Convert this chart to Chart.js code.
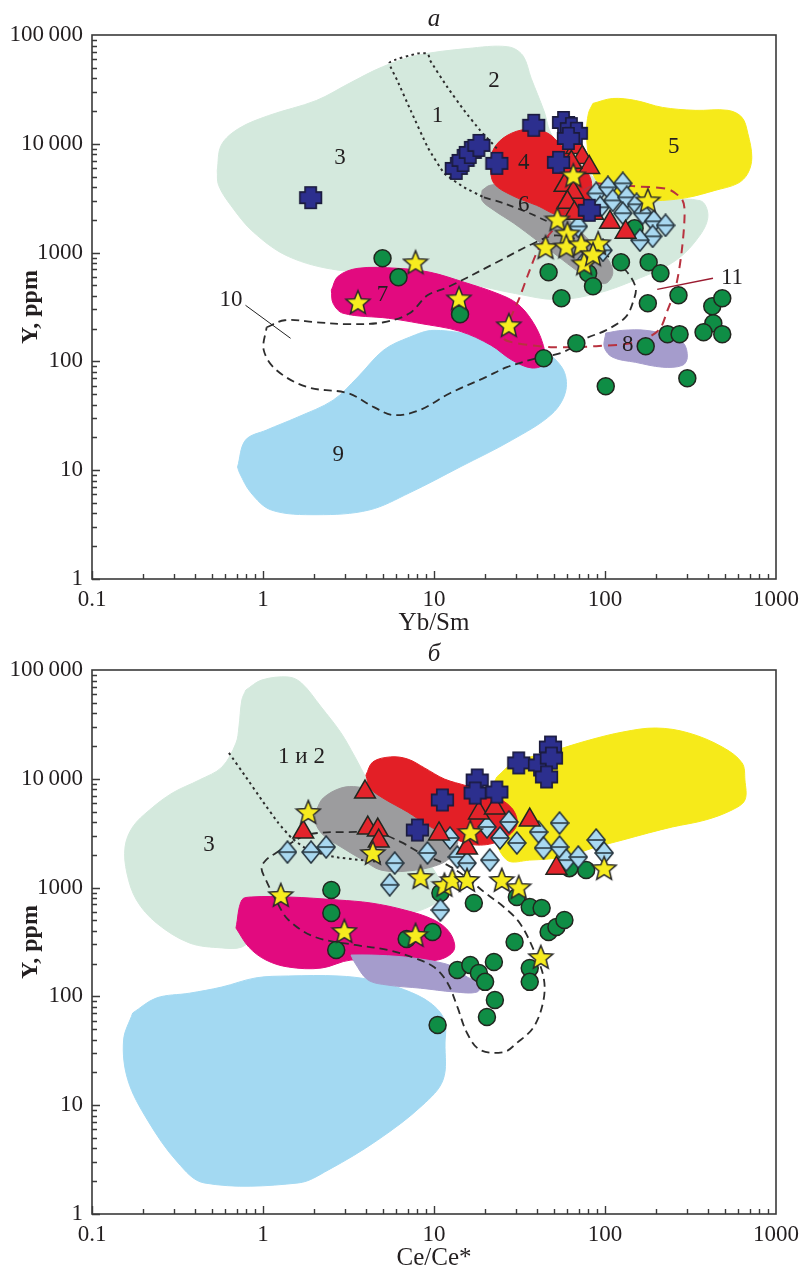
<!DOCTYPE html>
<html>
<head>
<meta charset="utf-8">
<script src="https://cdn.jsdelivr.net/npm/chart.js@4.4.0/dist/chart.umd.min.js"></script>
<style>
  body { margin: 0; background: #fff; }
  .panel { width: 806px; height: 636px; }
</style>
</head>
<body>
<div class="panel"><canvas id="chartA" width="806" height="636"></canvas></div>
<div class="panel"><canvas id="chartB" width="806" height="636"></canvas></div>
<script>
// axes
const xTicks = [0.1, 1, 10, 100, 1000];
const xTickLabels = ['0.1', '1', '10', '100', '1000'];
const yTicks = [1, 10, 100, 1000, 10000, 100000];
const yTickLabels = ['1', '10', '100', '1000', '10\u2009000', '100\u2009000'];

// ---- panel a: Y vs Yb/Sm ----
const zoneA3 = [[0.54,5700],[0.57,9700],[0.72,13800],[1.08,18200],[2.05,25000],[3.2,36000],[5.0,51000],[8.0,65000],[15.6,75000],[27,78000],[33,65000],[37,40000],[44,20000],[49,12000],[73,5900],[150,3200],[360,3000],[400,2200],[360,1450],[260,850],[150,560],[89,420],[52,370],[30,420],[15.6,520],[8,620],[2.75,690],[1.41,920],[0.88,1540],[0.65,2700],[0.55,4150],[0.54,5700]];
const zoneA9 = [[0.71,10.7],[0.79,18.9],[1.05,23.4],[1.59,30.7],[2.57,44],[3.59,72],[5.08,127],[7.2,167],[10,193],[20,167],[40,135],[56,88],[59,54],[49,33],[28.5,18.9],[14.2,10.7],[7.2,6.2],[4.16,4.3],[2.07,3.9],[1.12,4.3],[0.85,6.2],[0.73,9.4],[0.71,10.7]];
const zoneA7 = [[2.51,451],[2.75,606],[3.59,717],[6.12,717],[9.5,659],[15,534],[23.3,423],[30.5,342],[37.3,239],[43.2,147],[44.3,96],[37.3,87],[28.5,103],[21.5,141],[14.2,189],[8.2,224],[5.43,249],[2.94,277],[2.57,342],[2.51,451]];
const zoneA8 = [[101,182],[127,193],[173,193],[235,174],[288,147],[303,109],[284,92],[217,88.5],[151,98],[111,109],[99,135],[101,182]];
const zoneA6 = [[19.1,3730],[21.2,4150],[24.9,4150],[39.8,3220],[54,2450],[68,1710],[89,1120],[105,850],[111,645],[101,522],[85,557],[68,688],[54,905],[39.8,1300],[29.3,1860],[22.4,2450],[19.1,3020],[19.1,3730]];
const zoneA4 = [[21.2,6340],[22.4,9080],[26.7,11900],[34.8,13600],[45.5,12700],[55.6,9670],[68,7040],[83,4610],[77.6,2720],[55.6,2200],[39.8,2720],[28.5,3360],[22.4,4330],[21.2,6340]];
const zoneA5 = [[85,23500],[111,26100],[151,25000],[217,21600],[337,20300],[524,20300],[632,17500],[684,12500],[722,7500],[684,5350],[598,4330],[440,3730],[307,3220],[217,3020],[151,3020],[111,3500],[89,4610],[81,7040],[78,12500],[80,19000],[85,23500]];
const lineA10 = [[1.05,206],[1.34,239],[2.05,229],[3.15,220],[5.08,229],[7.2,277],[9.16,405],[12,480],[23.3,815],[38.3,1220],[52,1440],[77.6,1220],[108,887],[132,688],[151,480],[147,365],[132,255],[101,193],[77.6,163],[56.4,121],[39.8,107],[26.7,88.5],[20.1,71.6],[12.4,51],[8.2,35.6],[5.8,32.1],[4.45,38],[3.15,51],[1.82,58],[1.2,83],[1.01,127],[1.05,206]];
const lineA11 = [[88.8,4330],[151,4060],[235,3810],[284,3020],[292,2200],[280,986],[259,480],[232,295],[206,193],[151,150],[88.8,138],[50,135],[30.5,147],[25.6,163],[27.7,239],[31.7,389],[35.7,645],[41.4,1120],[52,1780],[68,3360],[88.8,4330]];
const dotsA1 = [[23.3,9080],[18.6,13300],[15,20300],[12,33000],[9.5,58300],[9.2,67600],[8.0,67600],[5.5,55900],[6.1,38200],[7.3,20300],[9.2,9270],[11.5,5350],[15,3980],[19.6,3220]];
const dashA1 = [[19.6,3220],[25.6,2840],[36.2,2300],[48.6,1860]];
const leadA10 = [[0.79,328],[1.45,163]];
const leadA11 = [[202,460],[428,581]];
const crossA = [[1.9,3200],[13.5,5940],[14.8,7040],[16.3,8340],[18.3,9670],[23.3,6610],[38.3,14800],[57.2,15700],[63.6,13800],[68,12500],[61.1,11200],[53.5,6750],[81,2450]];
const triangleA = [[68,9270],[73.6,7500],[80.8,6070],[63.6,6750],[58,4150],[65.3,3580],[60.3,2900],[85.1,2300],[107,1900],[132,1540],[66.2,2300]];
const diamondA = [[88.8,3500],[104,3980],[127,4330],[93.5,2610],[111,3020],[134,3220],[153,2780],[127,2300],[166,2300],[193,1940],[226,1780],[190,1410],[160,1300],[97.3,1050],[69.8,1740],[77.6,850]];
const starA = [[3.59,350],[7.8,815],[14,380],[27.4,215],[65.3,5130],[178,3020],[52.7,2020],[60.3,1500],[44.9,1120],[59.4,1140],[72.6,1190],[91.2,1220],[75.5,797],[85.1,965]];
const circleA = [[5.0,887],[6.2,593],[14.2,271],[43.8,107],[68,147],[101,59.2],[46.8,659],[55.6,380],[79.7,645],[85.1,490],[124,815],[180,815],[211,645],[178,342],[269,405],[424,321],[485,380],[430,224],[377,185],[485,178],[232,178],[273,178],[173,138],[303,70.1],[149,1670]];
const labelsA = [['1',10.5,18200],['2',22.4,38200],['3',2.82,7350],['4',33.5,6610],['5',252,9270],['6',33.5,2720],['7',5.0,405],['8',136,141],['9',2.75,13.8],['10',0.65,365],['11',553,581]];

// ---- panel б: Y vs Ce/Ce* ----
const zoneB3 = [[0.794,65500],[0.983,80900],[1.41,86200],[1.68,75900],[2.19,45700],[2.86,26400],[3.45,15900],[4.1,9750],[6.13,4180],[9.16,1790],[11.2,950],[9.8,692],[6.13,560],[2.41,560],[0.944,367],[0.752,284],[0.575,279],[0.371,310],[0.238,473],[0.182,769],[0.16,1360],[0.156,2360],[0.173,3610],[0.217,5170],[0.295,7400],[0.424,9750],[0.575,12800],[0.695,21300],[0.723,29900],[0.752,53000],[0.794,65500]];
const zoneB9 = [[0.173,70.4],[0.238,96.7],[0.371,107],[0.575,122],[0.908,148],[1.41,154],[2.75,154],[4.27,142],[6.73,115],[9.53,87],[11.5,60.7],[11.6,37.3],[11.3,17.1],[8.57,10],[4.69,4.79],[2.41,2.54],[1.61,1.93],[0.453,1.93],[0.316,3.0],[0.211,7.31],[0.162,17.1],[0.153,39.7],[0.173,70.4]];
const zoneB7 = [[0.695,425],[0.752,769],[0.86,820],[1.41,820],[2.75,769],[4.27,722],[6.73,622],[10,504],[12.4,383],[13.1,267],[10.5,216],[5.37,207],[3.27,216],[2.19,182],[1.41,186],[1.04,216],[0.826,284],[0.695,425]];
const zoneB8 = [[3.27,240],[3.45,203],[4.1,142],[5.37,127],[8.34,119],[13.1,110],[17.9,110],[18.6,133],[15.6,151],[13.1,186],[10.5,207],[6.73,230],[4.27,240],[3.27,240]];
const zoneB6 = [[2.05,5170],[2.25,6660],[2.86,8230],[3.59,8410],[4.69,7560],[7.01,5740],[10.5,4360],[13.7,3040],[12.8,1990],[10.5,1610],[7.01,1420],[4.89,1450],[3.84,1790],[2.86,2360],[2.25,3040],[2.02,4010],[2.05,5170]];
const zoneB4 = [[4.0,10800],[4.39,14300],[5.58,15900],[7.01,15200],[8.8,12600],[11.5,9960],[15.6,8590],[21.8,7100],[28.5,5390],[30.5,3760],[24.9,2740],[17.9,2460],[12.8,2860],[9.16,3760],[7.01,4950],[5.02,6660],[4.22,8230],[4.0,10800]];
const zoneB5 = [[23.3,10400],[29.3,14000],[52,18400],[81,22700],[127,26900],[198,29300],[308,26400],[485,19600],[633,14000],[658,9750],[658,6390],[553,5170],[386,4180],[248,3610],[180,3180],[127,2740],[88.8,2360],[57.1,1910],[36.3,1790],[26.7,1790],[21.8,3380],[20.4,6390],[23.3,10400]];
const lineB10 = [[1.19,2080],[1.68,2920],[2.11,3180],[3.14,3240],[4.69,3180],[6.38,2630],[8.34,2080],[12,1610],[15.6,1230],[19.6,912],[25.6,663],[31.7,473],[38.3,267],[43.7,151],[43.7,92.7],[38.3,52.3],[30.5,37.3],[25.6,30.8],[18.6,32.2],[15.6,46.1],[13.7,80],[12,133],[10,186],[7.7,225],[5.37,267],[3.45,297],[2.02,351],[1.41,504],[1.19,769],[1.04,1175],[0.98,1510],[1.04,1790],[1.19,2080]];
const dotsB = [[0.632,17300],[0.794,10400],[0.983,6390],[1.23,3920],[1.47,2860],[1.84,2220],[2.64,1910],[3.74,1790],[4.88,1720]];
const crossB = [[8.0,3380],[11.2,6390],[17.9,9750],[17.4,7400],[23.3,7560],[31.3,14000],[41.4,13400],[48,19600],[48.6,15500],[45.5,10400]];
const triangleB = [[1.72,3240],[3.95,7560],[4.1,3530],[4.69,3380],[4.75,2680],[10.7,3110],[18.3,4850],[22.7,5390],[36.3,4180],[15.6,2310],[52,1510]];
const diamondB = [[1.39,2120],[1.91,2120],[2.34,2360],[5.89,1680],[5.51,1060],[9.16,2080],[10.9,622],[12.4,2860],[13.7,1910],[15.6,1680],[21.2,1790],[20.4,3610],[24.3,2860],[27.4,4010],[30.5,2570],[40.9,3240],[43.7,2310],[54.2,3920],[54.2,2360],[59.4,1790],[69.8,1910],[88.8,2740],[98.9,2080]];
const starB = [[1.84,4950],[4.39,2080],[8.34,1250],[11.5,1060],[12.8,1175],[15.6,1175],[16.3,3240],[24.9,1175],[31.3,1010],[98.9,1510],[1.27,855],[2.99,399],[7.8,367],[42.1,230]];
const circleB = [[2.51,950],[2.51,584],[2.68,267],[6.92,337],[9.8,391],[10.9,892],[17.1,722],[30.5,820],[36.3,663],[42.6,649],[29.6,316],[46.8,391],[52,434],[57.9,504],[13.7,175],[16.3,194],[18.3,164],[19.9,136],[22.4,207],[36.3,182],[36.3,136],[22.7,92.7],[20.4,64.7],[10.5,54.6],[77.6,1450],[61.9,1510]];
const labelsB = [['1 и 2',1.68,15900],['3',0.484,2460]];

const serif = '"Liberation Serif", "Times New Roman", serif';

function makeMarker(w, h, paint) {
    const c = document.createElement('canvas');
    c.width = w;
    c.height = h;
    paint(c.getContext('2d'));
    return c;
}

const starImg = makeMarker(28, 28, function(g) {
    g.beginPath();
    for (let i = 0; i < 10; i++) {
        const r = i % 2 ? 5.6 : 12.6;
        const ang = -Math.PI / 2 + i * Math.PI / 5;
        g.lineTo(14 + r * Math.cos(ang), 15 + r * Math.sin(ang));
    }
    g.closePath();
    g.fillStyle = '#f7ec1f';
    g.fill();
    g.lineWidth = 1.5;
    g.strokeStyle = '#2a2a2a';
    g.stroke();
});

const crossImg = makeMarker(25, 25, function(g) {
    const a = 5.6, s = 10.8, c = 12.5;
    const pts = [[c-a,c-s],[c+a,c-s],[c+a,c-a],[c+s,c-a],[c+s,c+a],[c+a,c+a],[c+a,c+s],[c-a,c+s],[c-a,c+a],[c-s,c+a],[c-s,c-a],[c-a,c-a]];
    g.beginPath();
    pts.forEach(p => g.lineTo(p[0], p[1]));
    g.closePath();
    g.fillStyle = '#2c2f8e';
    g.fill();
    g.lineWidth = 1.6;
    g.strokeStyle = '#1b1b3b';
    g.stroke();
});

const diamondImg = makeMarker(20, 24, function(g) {
    g.beginPath();
    g.moveTo(10, 1); g.lineTo(19, 12); g.lineTo(10, 23); g.lineTo(1, 12);
    g.closePath();
    g.fillStyle = '#a9d9f1';
    g.fill();
    g.lineWidth = 1.5;
    g.strokeStyle = '#22303a';
    g.stroke();
    g.beginPath();
    g.moveTo(2, 12); g.lineTo(18, 12);
    g.stroke();
});

const toXY = arr => arr.map(p => ({ x: p[0], y: p[1] }));

function zone(data, color, order) {
    return { data: toXY(data), showLine: true, fill: 'shape', backgroundColor: color,
             borderColor: color, borderWidth: 1, pointRadius: 0, tension: 0.35, order: order };
}

function outline(data, color, width, dash, order, tension) {
    return { data: toXY(data), showLine: true, fill: false, borderColor: color, borderWidth: width,
             borderDash: dash, pointRadius: 0, tension: tension, order: order };
}

function markers(data, style, radius, fillColor, order) {
    return { data: toXY(data), showLine: false, pointStyle: style, pointRadius: radius,
             backgroundColor: fillColor || '#000', borderColor: '#22261f', borderWidth: 1.5, order: order };
}

// box, inward ticks and all the texts
const framePlugin = {
    id: 'frame',
    afterDraw(chart, args, opts) {
        const { ctx, chartArea: area } = chart;
        const x = chart.scales.x, y = chart.scales.y;
        ctx.save();
        ctx.strokeStyle = '#3a3a3a';
        ctx.lineWidth = 1.4;
        ctx.beginPath();
        for (let d = 0.1; d < 999; d *= 10) {
            for (let m = 1; m < 10; m++) {
                const px = Math.round(x.getPixelForValue(d * m)) + 0.5;
                ctx.moveTo(px, area.bottom);
                ctx.lineTo(px, area.bottom - (m === 1 ? 8 : 5));
            }
        }
        for (let d = 1; d < 99999; d *= 10) {
            for (let m = 1; m < 10; m++) {
                const py = Math.round(y.getPixelForValue(d * m)) + 0.5;
                ctx.moveTo(area.left, py);
                ctx.lineTo(area.left + (m === 1 ? 8 : 5), py);
            }
        }
        ctx.stroke();
        ctx.lineWidth = 1.6;
        ctx.strokeRect(area.left, area.top, area.right - area.left, area.bottom - area.top);

        ctx.fillStyle = '#231f20';
        ctx.textAlign = 'center';
        ctx.textBaseline = 'middle';
        ctx.font = '23px ' + serif;
        opts.labels.forEach(function(l) {
            ctx.fillText(l[0], x.getPixelForValue(l[1]), y.getPixelForValue(l[2]));
        });
        const cx = (area.left + area.right) / 2;
        ctx.font = '25px ' + serif;
        ctx.fillText(opts.xTitle, cx, area.bottom + 44);
        ctx.font = 'italic 25px ' + serif;
        ctx.fillText(opts.letter, cx, area.top - 16);
        ctx.translate(31, (area.top + area.bottom) / 2);
        ctx.rotate(-Math.PI / 2);
        ctx.font = 'bold 24px ' + serif;
        ctx.fillText('Y, ppm', 0, 0);
        ctx.restore();
    }
};

function makePanel(id, datasets, plugOpts, top, axisH) {
    return new Chart(document.getElementById(id), {
        type: 'scatter',
        data: { datasets: datasets },
        plugins: [framePlugin],
        options: {
            responsive: false,
            animation: false,
            events: [],
            devicePixelRatio: 1,
            layout: { padding: { top: top, right: 25, left: 0, bottom: 0 } },
            plugins: { legend: { display: false }, tooltip: { enabled: false }, frame: plugOpts },
            scales: {
                x: {
                    type: 'logarithmic', min: 0.1, max: 1000,
                    grid: { display: false, drawTicks: false },
                    border: { display: false },
                    ticks: { color: '#231f20', font: { family: serif, size: 23 }, padding: 7,
                             autoSkip: false, maxRotation: 0,
                             callback: (v, i) => xTickLabels[i] },
                    afterBuildTicks: s => { s.ticks = xTicks.map(v => ({ value: v })); },
                    afterFit: s => { s.height = axisH; }
                },
                y: {
                    type: 'logarithmic', min: 1, max: 100000,
                    grid: { display: false, drawTicks: false },
                    border: { display: false },
                    ticks: { color: '#231f20', font: { family: serif, size: 23 }, padding: 9,
                             autoSkip: false,
                             callback: (v, i) => yTickLabels[i] },
                    afterBuildTicks: s => { s.ticks = yTicks.map(v => ({ value: v })); },
                    afterFit: s => { s.width = 92; }
                }
            }
        }
    });
}

const dark = '#2d2d2d';

makePanel('chartA', [
    zone(zoneA3, '#d4e9dd', 30),
    zone(zoneA9, '#a3d9f2', 29),
    zone(zoneA7, '#e20a7f', 28),
    zone(zoneA8, '#a59ccc', 27),
    zone(zoneA6, '#9c9c9e', 26),
    zone(zoneA4, '#e31f26', 25),
    zone(zoneA5, '#f6ea1a', 24),
    outline(dotsA1, dark, 2, [2.5, 3.5], 20, 0.15),
    outline(dashA1, dark, 1.8, [7, 5], 20, 0.2),
    outline(lineA10, dark, 1.8, [8, 5], 19, 0.35),
    outline(lineA11, '#b8323f', 2, [9, 6], 18, 0.3),
    outline(leadA10, '#222', 1, [], 18, 0),
    outline(leadA11, '#9b1b30', 1.3, [], 18, 0),
    markers(circleA, 'circle', 8.5, '#0f8d45', 6),
    markers(diamondA, diamondImg, 10, null, 5),
    markers(triangleA, 'triangle', 12, '#e3242b', 4),
    markers(crossA, crossImg, 10, null, 3),
    markers(starA, starImg, 10, null, 2)
], { labels: labelsA, xTitle: 'Yb/Sm', letter: 'а' }, 35, 57);

makePanel('chartB', [
    zone(zoneB3, '#d4e9dd', 30),
    zone(zoneB9, '#a3d9f2', 29),
    zone(zoneB7, '#e20a7f', 28),
    zone(zoneB8, '#a59ccc', 27),
    zone(zoneB5, '#f6ea1a', 26),
    zone(zoneB6, '#9c9c9e', 25),
    zone(zoneB4, '#e31f26', 24),
    outline(dotsB, dark, 2, [2.5, 3.5], 20, 0.15),
    outline(lineB10, dark, 1.8, [8, 5], 19, 0.35),
    markers(circleB, 'circle', 8.5, '#0f8d45', 6),
    markers(diamondB, diamondImg, 10, null, 5),
    markers(triangleB, 'triangle', 12, '#e3242b', 4),
    markers(crossB, crossImg, 10, null, 3),
    markers(starB, starImg, 10, null, 2)
], { labels: labelsB, xTitle: 'Ce/Ce*', letter: 'б' }, 34, 58);
</script>
</body>
</html>
